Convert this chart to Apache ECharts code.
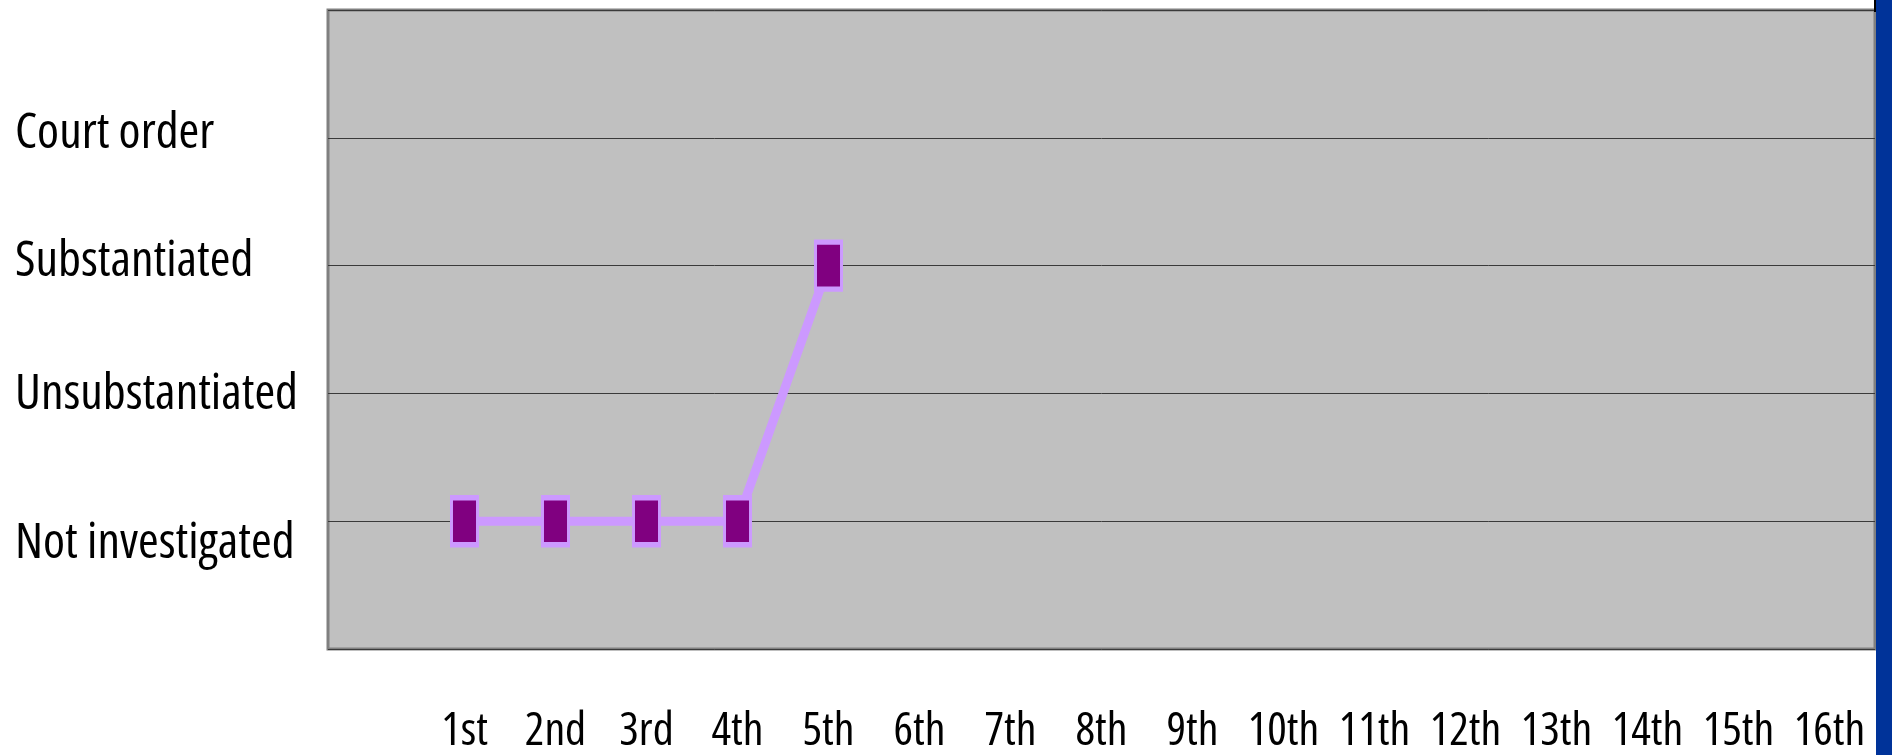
<!DOCTYPE html>
<html>
<head>
<meta charset="utf-8">
<script src="https://cdn.jsdelivr.net/npm/echarts@6/dist/echarts.min.js"></script>
<style>
html,body{margin:0;padding:0;background:#fff;}
#c{width:1892px;height:755px;}
</style>
</head>
<body>
<div id="c"></div>
<script>
// ---- data ----
const categories = ['', '1st', '2nd', '3rd', '4th', '5th', '6th', '7th', '8th', '9th', '10th', '11th', '12th', '13th', '14th', '15th', '16th'];
const levelNames = ['', 'Not investigated', 'Unsubstantiated', 'Substantiated', 'Court order', ''];
const seriesValues = [null, 1, 1, 1, 1, 3, null, null, null, null, null, null, null, null, null, null, null];

// ---- condensed text rendering (the reference uses a narrow typeface) ----
(function () {
  const d = Object.getOwnPropertyDescriptor(CanvasRenderingContext2D.prototype, 'font');
  if (d && d.set) {
    Object.defineProperty(CanvasRenderingContext2D.prototype, 'font', {
      configurable: true,
      get: function () { return d.get.call(this); },
      set: function (v) { d.set.call(this, v); try { this.fontStretch = 'condensed'; } catch (e) {} }
    });
  }
})();

// ---- styling ----
const FONT = '"Open Sans", sans-serif';
const labelShift = {1: 'down', 2: 'mid', 3: 'up', 4: 'up'};

const chart = echarts.init(document.getElementById('c'), null, {renderer: 'canvas'});
chart.setOption({
  animation: false,
  backgroundColor: '#ffffff',
  grid: {
    left: 328, top: 10, right: 17, bottom: 104,
    show: true, backgroundColor: '#C0C0C0', borderColor: '#808080', borderWidth: 3,
    containLabel: false
  },
  xAxis: {
    type: 'category',
    data: categories,
    boundaryGap: true,
    axisLine: {show: false},
    axisTick: {show: false},
    splitLine: {show: false},
    axisLabel: {
      interval: 0, margin: 60, color: '#000', fontFamily: FONT, fontSize: 46
    }
  },
  yAxis: {
    type: 'value',
    min: 0, max: 5, interval: 1,
    axisLine: {show: false},
    axisTick: {show: false},
    splitLine: {show: true, lineStyle: {color: '#3a3a3a', width: 1}},
    axisLabel: {
      align: 'left',
      margin: 313,
      color: '#000', fontFamily: FONT, fontSize: 50,
      formatter: function (v) {
        const name = levelNames[v] || '';
        if (!name) return '';
        return '{' + labelShift[v] + '|' + name + '}';
      },
      rich: {
        up: {fontFamily: FONT, fontSize: 50, color: '#000', padding: [0, 0, 8, 0]},
        mid: {fontFamily: FONT, fontSize: 50, color: '#000', padding: [2, 0, 0, 0]},
        down: {fontFamily: FONT, fontSize: 50, color: '#000', padding: [46, 0, 0, 0]}
      }
    }
  },
  series: [{
    type: 'line',
    data: seriesValues,
    connectNulls: false,
    symbol: 'rect',
    symbolSize: [26, 47],
    lineStyle: {color: '#CC99FF', width: 9},
    itemStyle: {color: '#800080', borderColor: '#CC99FF', borderWidth: 4},
    z: 3
  }],
  graphic: [{
    type: 'rect',
    shape: {x: 1876, y: 0, width: 16, height: 755},
    style: {fill: '#003399'},
    z: 10
  }, {
    type: 'rect',
    shape: {x: 1874, y: 0, width: 2, height: 12},
    style: {fill: '#000'},
    z: 10
  }]
});
</script>
</body>
</html>
